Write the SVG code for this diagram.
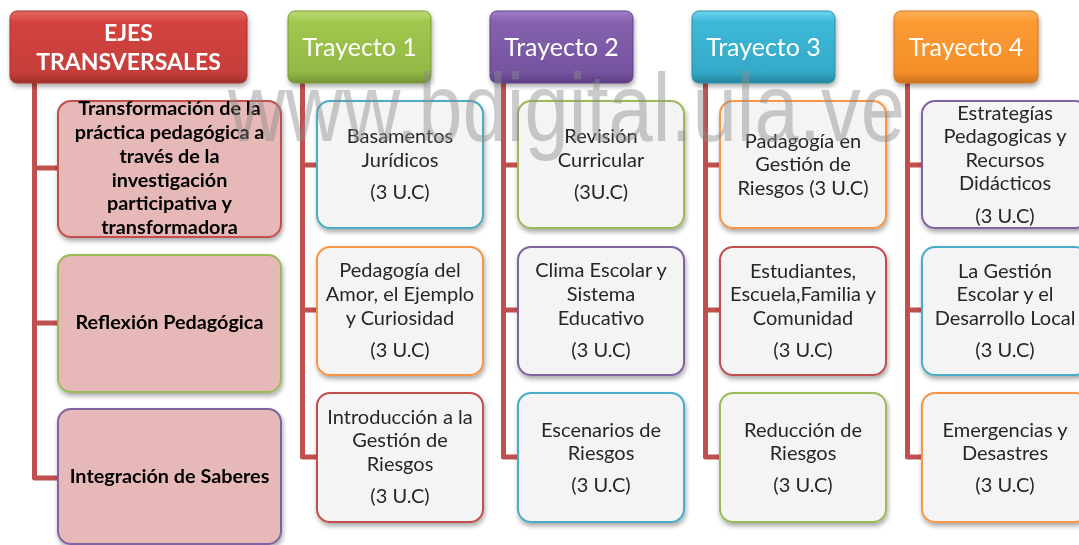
<svg xmlns="http://www.w3.org/2000/svg" width="1079" height="545" viewBox="0 0 1079 545">
<defs>
<style>
.hd{font-family:Lato,"Open Sans",sans-serif;fill:#fff;text-anchor:middle}
.hb{font-weight:bold;font-size:23px}
.ht{font-size:25px}
.bx{fill:#F4F4F4;stroke-width:2}
.lb{fill:#E6B8B7;stroke-width:2}
.t{font-family:Lato,"Open Sans",sans-serif;font-size:20px;fill:#262626;text-anchor:middle}
.tb{font-family:Lato,"Open Sans",sans-serif;font-size:19.8px;font-weight:bold;fill:#000;text-anchor:middle}
.ln{fill:none;stroke:#C0504D;stroke-width:5;stroke-linejoin:round}
.red{stroke:#C0504D}.grn{stroke:#9BBB59}.pur{stroke:#8064A2}.aqu{stroke:#4BACC6}.org{stroke:#F79646}
.wm{font-family:"Liberation Sans",Arial,sans-serif;font-size:96px;fill:#8C8C8C;fill-opacity:0.45}
</style>
<linearGradient id="gR" x1="0" y1="0" x2="0" y2="1"><stop offset="0" stop-color="#E26A66"/><stop offset="0.15" stop-color="#D3433F"/><stop offset="0.85" stop-color="#C63E3A"/><stop offset="1" stop-color="#A3302D"/></linearGradient>
<linearGradient id="gG" x1="0" y1="0" x2="0" y2="1"><stop offset="0" stop-color="#BCDB72"/><stop offset="0.15" stop-color="#A2C74E"/><stop offset="0.85" stop-color="#93B846"/><stop offset="1" stop-color="#739334"/></linearGradient>
<linearGradient id="gP" x1="0" y1="0" x2="0" y2="1"><stop offset="0" stop-color="#A07FCC"/><stop offset="0.15" stop-color="#8462AE"/><stop offset="0.85" stop-color="#7553A0"/><stop offset="1" stop-color="#5A3D83"/></linearGradient>
<linearGradient id="gA" x1="0" y1="0" x2="0" y2="1"><stop offset="0" stop-color="#6DD5EE"/><stop offset="0.15" stop-color="#3DB9D8"/><stop offset="0.85" stop-color="#33A9C6"/><stop offset="1" stop-color="#25859E"/></linearGradient>
<linearGradient id="gO" x1="0" y1="0" x2="0" y2="1"><stop offset="0" stop-color="#FFB257"/><stop offset="0.15" stop-color="#FB9A33"/><stop offset="0.85" stop-color="#F58F2A"/><stop offset="1" stop-color="#C9721F"/></linearGradient>
<filter id="sh" x="-10%" y="-10%" width="120%" height="130%"><feGaussianBlur in="SourceAlpha" stdDeviation="2.5"/><feOffset dx="1" dy="3" result="b"/><feComponentTransfer><feFuncA type="linear" slope="0.35"/></feComponentTransfer><feMerge><feMergeNode/><feMergeNode in="SourceGraphic"/></feMerge></filter>
</defs>
<rect width="1079" height="545" fill="#fff"/>

<g id="connectors">
<path class="ln" d="M34.5 83 V478 H58 M34.5 168 H58 M34.5 323 H58"/>
<path class="ln" d="M302.5 83 V457 H317 M302.5 165 H317 M302.5 310 H317"/>
<path class="ln" d="M503.5 83 V457 H518 M503.5 165 H518 M503.5 310 H518"/>
<path class="ln" d="M705.5 83 V457 H720 M705.5 165 H720 M705.5 310 H720"/>
<path class="ln" d="M907.5 83 V457 H922 M907.5 165 H922 M907.5 310 H922"/>
</g>

<g id="ejes" filter="url(#sh)">
<rect x="10" y="11" width="237" height="72" rx="7" fill="url(#gR)" stroke="#A8332F" stroke-width="1"/>
<text class="hd hb" x="128.5" y="41">EJES</text>
<text class="hd hb" x="128.5" y="70">TRANSVERSALES</text>
</g>
<g id="trayecto1" filter="url(#sh)">
<rect x="288" y="11" width="143" height="72" rx="7" fill="url(#gG)" stroke="#7A9A38" stroke-width="1"/>
<text class="hd ht" x="359.5" y="56">Trayecto 1</text>
</g>
<g id="trayecto2" filter="url(#sh)">
<rect x="490" y="11" width="143" height="72" rx="7" fill="url(#gP)" stroke="#5F428A" stroke-width="1"/>
<text class="hd ht" x="561.5" y="56">Trayecto 2</text>
</g>
<g id="trayecto3" filter="url(#sh)">
<rect x="692" y="11" width="143" height="72" rx="7" fill="url(#gA)" stroke="#2A8DA6" stroke-width="1"/>
<text class="hd ht" x="763.5" y="56">Trayecto 3</text>
</g>
<g id="trayecto4" filter="url(#sh)">
<rect x="894" y="11" width="144" height="72" rx="7" fill="url(#gO)" stroke="#CE7622" stroke-width="1"/>
<text class="hd ht" x="966" y="56">Trayecto 4</text>
</g>

<g id="eje1" filter="url(#sh)">
<rect class="lb red" x="58" y="101" width="223" height="136" rx="13"/>
<text class="tb" x="169.5" y="115">Transformación de la</text>
<text class="tb" x="169.5" y="139">práctica pedagógica a</text>
<text class="tb" x="169.5" y="163">través de la</text>
<text class="tb" x="169.5" y="187">investigación</text>
<text class="tb" x="169.5" y="210">participativa y</text>
<text class="tb" x="169.5" y="234">transformadora</text>
</g>
<g id="eje2" filter="url(#sh)">
<rect class="lb grn" x="58" y="255" width="223" height="137" rx="13"/>
<text class="tb" x="169.5" y="329">Reflexión Pedagógica</text>
</g>
<g id="eje3" filter="url(#sh)">
<rect class="lb pur" x="58" y="409" width="223" height="135" rx="13"/>
<text class="tb" x="169.5" y="483">Integración de Saberes</text>
</g>

<g id="t1b1" filter="url(#sh)">
<rect class="bx aqu" x="317" y="101" width="166" height="127" rx="13"/>
<text class="t" x="400" y="143">Basamentos</text>
<text class="t" x="400" y="167">Jurídicos</text>
<text class="t" x="400" y="199">(3 U.C)</text>
</g>
<g id="t1b2" filter="url(#sh)">
<rect class="bx org" x="317" y="247" width="166" height="128" rx="13"/>
<text class="t" x="400" y="277">Pedagogía del</text>
<text class="t" x="400" y="301">Amor, el Ejemplo</text>
<text class="t" x="400" y="325">y Curiosidad</text>
<text class="t" x="400" y="357">(3 U.C)</text>
</g>
<g id="t1b3" filter="url(#sh)">
<rect class="bx red" x="317" y="393" width="166" height="129" rx="13"/>
<text class="t" x="400" y="424">Introducción a la</text>
<text class="t" x="400" y="447">Gestión de</text>
<text class="t" x="400" y="471">Riesgos</text>
<text class="t" x="400" y="503">(3 U.C)</text>
</g>

<g id="t2b1" filter="url(#sh)">
<rect class="bx grn" x="518" y="101" width="166" height="127" rx="13"/>
<text class="t" x="601" y="143">Revisión</text>
<text class="t" x="601" y="167">Curricular</text>
<text class="t" x="601" y="199">(3U.C)</text>
</g>
<g id="t2b2" filter="url(#sh)">
<rect class="bx pur" x="518" y="247" width="166" height="128" rx="13"/>
<text class="t" x="601" y="277">Clima Escolar y</text>
<text class="t" x="601" y="301">Sistema</text>
<text class="t" x="601" y="325">Educativo</text>
<text class="t" x="601" y="357">(3 U.C)</text>
</g>
<g id="t2b3" filter="url(#sh)">
<rect class="bx aqu" x="518" y="393" width="166" height="129" rx="13"/>
<text class="t" x="601" y="437">Escenarios de</text>
<text class="t" x="601" y="460">Riesgos</text>
<text class="t" x="601" y="492">(3 U.C)</text>
</g>

<g id="t3b1" filter="url(#sh)">
<rect class="bx org" x="720" y="101" width="166" height="127" rx="13"/>
<text class="t" x="803" y="148">Padagogía en</text>
<text class="t" x="803" y="171">Gestión de</text>
<text class="t" x="803" y="195">Riesgos (3 U.C)</text>
</g>
<g id="t3b2" filter="url(#sh)">
<rect class="bx red" x="720" y="247" width="166" height="128" rx="13"/>
<text class="t" x="803" y="278">Estudiantes,</text>
<text class="t" x="803" y="301">Escuela,Familia y</text>
<text class="t" x="803" y="325">Comunidad</text>
<text class="t" x="803" y="357">(3 U.C)</text>
</g>
<g id="t3b3" filter="url(#sh)">
<rect class="bx grn" x="720" y="393" width="166" height="129" rx="13"/>
<text class="t" x="803" y="437">Reducción de</text>
<text class="t" x="803" y="460">Riesgos</text>
<text class="t" x="803" y="492">(3 U.C)</text>
</g>

<g id="t4b1" filter="url(#sh)">
<rect class="bx pur" x="922" y="101" width="166" height="127" rx="13"/>
<text class="t" x="1005" y="120">Estrategías</text>
<text class="t" x="1005" y="143">Pedagogicas y</text>
<text class="t" x="1005" y="167">Recursos</text>
<text class="t" x="1005" y="190">Didácticos</text>
<text class="t" x="1005" y="223">(3 U.C)</text>
</g>
<g id="t4b2" filter="url(#sh)">
<rect class="bx aqu" x="922" y="247" width="166" height="128" rx="13"/>
<text class="t" x="1005" y="278">La Gestión</text>
<text class="t" x="1005" y="301">Escolar y el</text>
<text class="t" x="1005" y="325">Desarrollo Local</text>
<text class="t" x="1005" y="357">(3 U.C)</text>
</g>
<g id="t4b3" filter="url(#sh)">
<rect class="bx org" x="922" y="393" width="166" height="129" rx="13"/>
<text class="t" x="1005" y="437">Emergencias y</text>
<text class="t" x="1005" y="460">Desastres</text>
<text class="t" x="1005" y="492">(3 U.C)</text>
</g>

<text class="wm" x="228" y="141" textLength="677" lengthAdjust="spacingAndGlyphs">www.bdigital.ula.ve</text>
</svg>
